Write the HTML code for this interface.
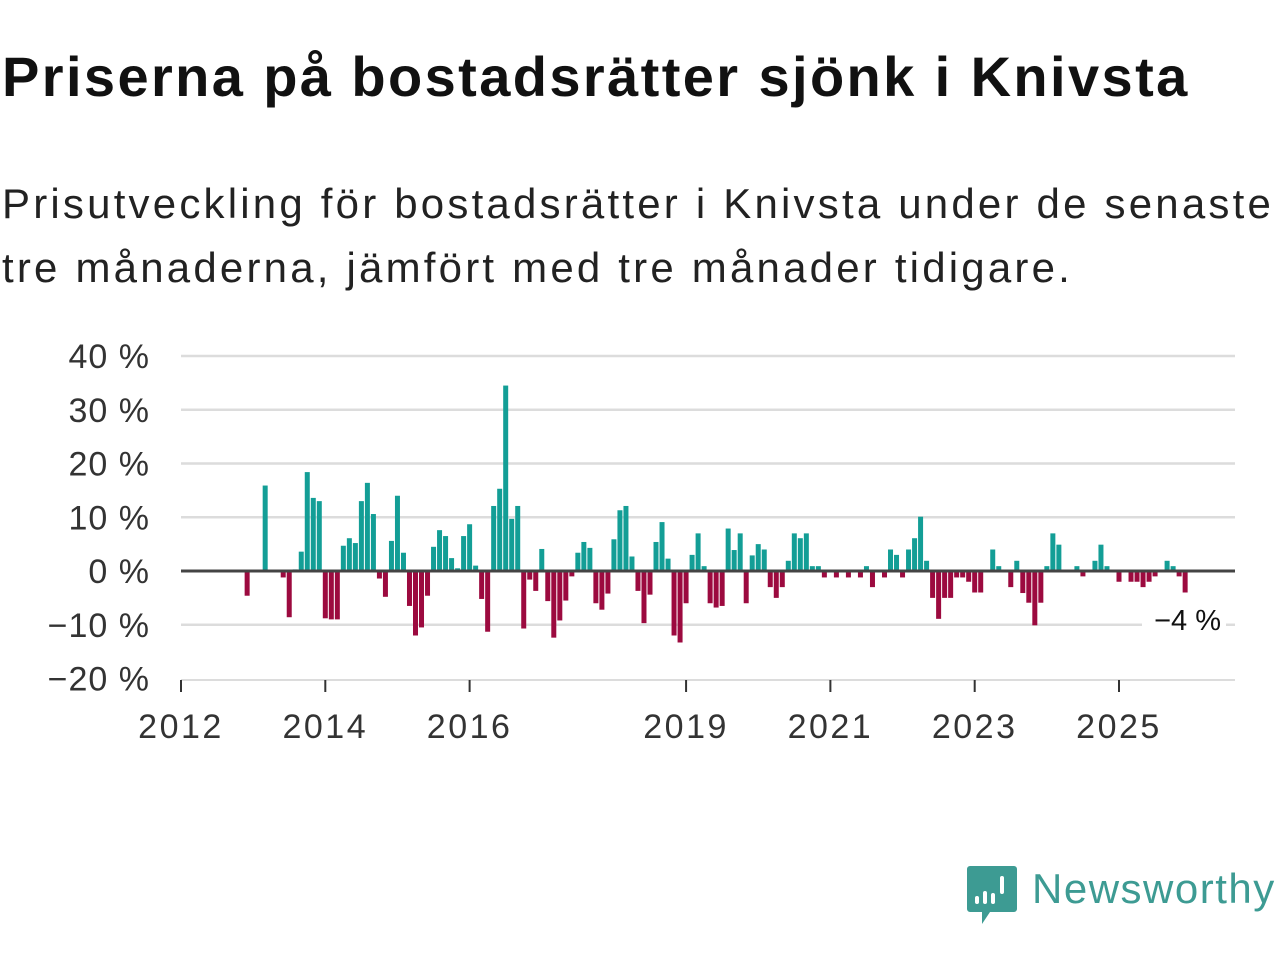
<!DOCTYPE html>
<html><head><meta charset="utf-8">
<style>
body{margin:0;width:1280px;height:960px;background:#fff;overflow:hidden;font-family:"Liberation Sans","DejaVu Sans",sans-serif;color:#111}
#title{position:absolute;left:2px;top:44px;font-size:56px;font-weight:bold;margin:0;letter-spacing:2.4px;white-space:nowrap}
#sub{position:absolute;left:2px;top:172px;font-size:42px;line-height:64px;color:#222;margin:0;letter-spacing:3.2px;white-space:nowrap}
svg{position:absolute;left:0;top:0}
</style></head><body>
<h1 id="title">Priserna på bostadsrätter sjönk i Knivsta</h1>
<p id="sub">Prisutveckling för bostadsrätter i Knivsta under de senaste<br>tre månaderna, jämfört med tre månader tidigare.</p>
<svg id="chart" width="1280" height="960"></svg>
<script>
const startYear = 2012;
const values = [
null,null,null,null,null,null,null,null,null,null,null,-4.6,null,null,15.9,null,null,-1.2,-8.6,0.3,
3.6,18.4,13.6,13.0,-8.8,-9.0,-9.0,4.7,6.1,5.2,13.0,16.4,10.6,-1.4,-4.8,5.6,14.0,3.4,-6.5,-12.0,
-10.5,-4.6,4.5,7.6,6.5,2.4,0.5,6.5,8.7,1.0,-5.2,-11.3,12.1,15.3,34.5,9.7,12.1,-10.7,-1.6,-3.7,
4.1,-5.6,-12.4,-9.2,-5.5,-1.0,3.4,5.4,4.3,-6.0,-7.2,-4.2,5.9,11.3,12.1,2.7,-3.7,-9.7,-4.4,5.4,
9.1,2.3,-12.0,-13.3,-6.0,3.0,7.0,0.9,-6.0,-6.8,-6.5,7.9,3.9,7.0,-6.0,2.9,5.0,4.0,-3.0,-5.0,
-3.0,1.9,7.0,6.1,7.0,0.9,0.9,-1.2,0,-1.2,0,-1.2,0,-1.2,0.9,-3.0,0,-1.2,4.0,3.0,
-1.2,4.0,6.1,10.1,1.9,-5.0,-8.9,-5.0,-5.0,-1.2,-1.2,-2.0,-4.0,-4.0,0,4.0,0.9,0,-3.0,1.9,
-4.1,-5.9,-10.1,-5.9,0.9,7.0,4.9,0,0,0.9,-1.0,0,1.9,4.9,0.9,0,-2.0,0,-2.0,-2.0,
-3.0,-2.0,-1.0,0,1.9,0.9,-1.0,-4.0
];
const yTicks = [40,30,20,10,0,-10,-20];
const xTickYears = [2012,2014,2016,2019,2021,2023,2025];
const lastLabel = "−4 %";

const svg = document.getElementById('chart');
const NS = 'http://www.w3.org/2000/svg';
const x0 = 181, pxPerYear = 938/13, right = 1235;
const xOf = m => x0 + m * pxPerYear / 12;
const yOf = v => 571 - v * 5.375;
function mk(tag, attrs){const e=document.createElementNS(NS,tag);for(const k in attrs)e.setAttribute(k,attrs[k]);svg.appendChild(e);return e;}

yTicks.forEach(t=>{
  if(t!==0 && t!==-20){const g=mk('line',{x1:181,x2:right,y1:yOf(t),y2:yOf(t),stroke:'#dcdcdc','stroke-width':2.5});
  
  }
  const tx=mk('text',{x:150,y:yOf(t)+12,'text-anchor':'end','font-size':34,'letter-spacing':1,fill:'#333','font-family':'Liberation Sans, sans-serif'});
  tx.textContent=(t<0?'−'+(-t):t)+' %';
  
  
});
const ax=mk('line',{x1:181,x2:right,y1:680,y2:680,stroke:'#dcdcdc','stroke-width':2});



values.forEach((v,i)=>{
  if(v===null||v===0)return;
  const x=xOf(i), y=yOf(Math.max(v,0)), h=Math.abs(yOf(v)-yOf(0));
  const r=mk('rect',{x:x-2.5,y:y,width:5,height:h,fill:v>0?'#139e96':'#9c0a3f'});
  
  
});
const zl=mk('line',{x1:181,x2:right,y1:yOf(0),y2:yOf(0),stroke:'#444','stroke-width':3});



xTickYears.forEach(yr=>{
  const x=xOf((yr-startYear)*12);
  const tk=mk('line',{x1:x,x2:x,y1:680,y2:692,stroke:'#333','stroke-width':2});
  
  
  const tx=mk('text',{x:x,y:738,'text-anchor':'middle','font-size':34,'letter-spacing':2.5,fill:'#333','font-family':'Liberation Sans, sans-serif'});
  tx.textContent=yr;
  
  
});

const bg=mk('rect',{x:1142,y:603,width:84,height:34,fill:'#fff'});


const an=mk('text',{x:1221,y:630,'text-anchor':'end','font-size':29,fill:'#111','font-family':'Liberation Sans, sans-serif'});
an.textContent=lastLabel;



const lg=mk('path',{d:'M970 866 h44 a3 3 0 0 1 3 3 v40 a3 3 0 0 1 -3 3 h-24 l-8 12 v-12 h-12 a3 3 0 0 1 -3 -3 v-40 a3 3 0 0 1 3 -3z',fill:'#3d9b93'});


[[975,896,4,8],[983,891,4,13],[991,893,4,11],[1000,876,4,18]].forEach(b=>{
  const r=mk('rect',{x:b[0],y:b[1],width:b[2],height:b[3],rx:2,fill:'#fff'});
  
  
});
const lt=mk('text',{x:1032,y:903,'font-size':42,'letter-spacing':1.5,fill:'#3d9b93','font-family':'Liberation Sans, sans-serif'});
lt.textContent='Newsworthy';


</script>
</body></html>
